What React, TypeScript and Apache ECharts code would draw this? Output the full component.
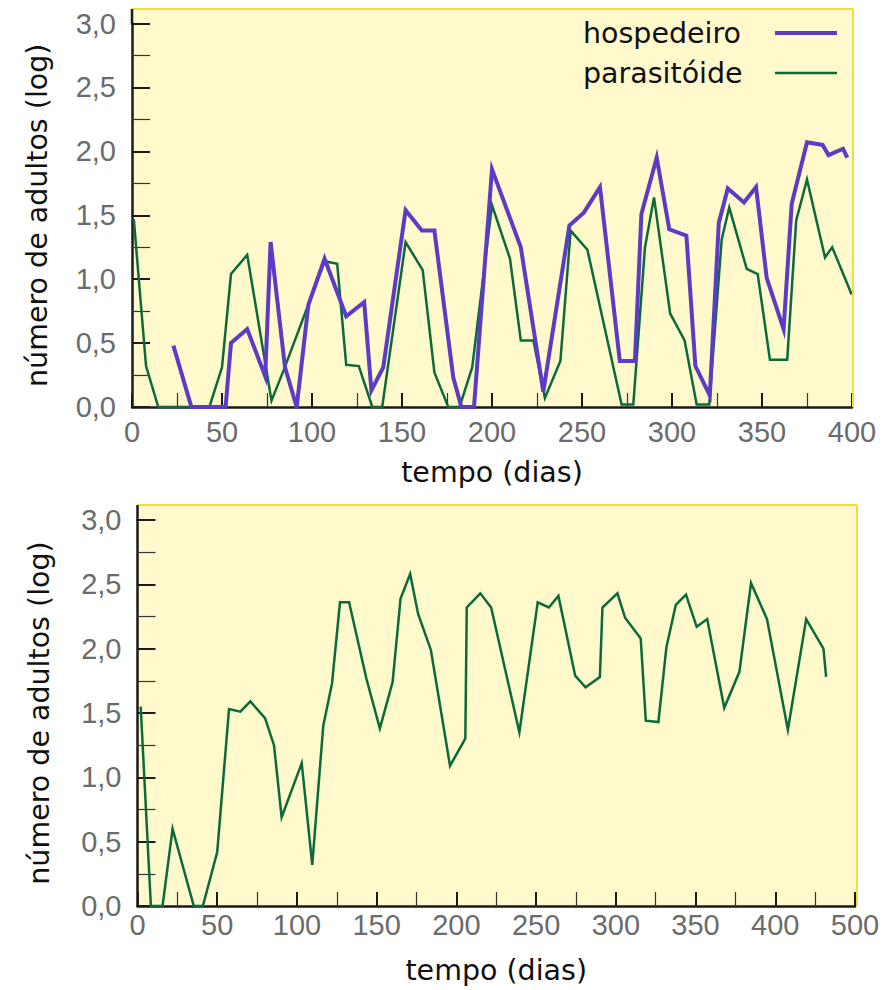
import React, { useEffect, useRef } from "react";
import * as echarts from "echarts";

// ---------- data ----------
const topXTickLabels = ["0", "50", "100", "150", "200", "250", "300", "350", "400"];
const bottomXTickLabels = ["0", "50", "100", "150", "200", "250", "300", "350", "400", "500"];
const yTickLabels = ["0,0", "0,5", "1,0", "1,5", "2,0", "2,5", "3,0"];

const seriesNames = ["hospedeiro", "parasitóide"];

const hostDays = [23, 33, 52, 55, 64, 74, 77, 85, 91.5, 98, 107, 119, 129, 133, 139.6, 152, 161, 168, 178.5, 183, 190, 200, 216, 228.5, 243, 251, 260, 271, 279.4, 283, 291.5, 298.5, 308, 313, 321, 326, 331, 340, 346.7, 352.6, 362, 366.5, 375, 383.7, 387, 395, 397.4];
const hostValues = [0.48, 0, 0, 0.5, 0.61, 0.24, 1.29, 0.31, 0, 0.8, 1.16, 0.71, 0.82, 0.13, 0.31, 1.54, 1.38, 1.38, 0.23, 0, 0, 1.86, 1.25, 0.12, 1.42, 1.52, 1.72, 0.36, 0.36, 1.51, 1.95, 1.39, 1.34, 0.32, 0.09, 1.44, 1.71, 1.6, 1.72, 1.01, 0.61, 1.59, 2.07, 2.05, 1.97, 2.02, 1.95];

const paraDays = [1, 7.8, 14.6, 43, 50, 55, 64, 77.5, 84.6, 107, 114, 119, 126, 133.5, 139, 152, 161.5, 168, 175.7, 182, 189, 200, 210, 216, 223, 229.4, 238, 243.7, 253, 272, 278.5, 285, 290, 299, 307, 313.7, 320.7, 327.6, 331.8, 341.5, 347.6, 354.4, 364, 369, 375, 385, 389, 399.8];
const paraValues = [1.47, 0.32, 0, 0, 0.31, 1.04, 1.19, 0.05, 0.3, 1.14, 1.12, 0.33, 0.32, 0, 0, 1.29, 1.07, 0.27, 0, 0, 0.31, 1.58, 1.16, 0.52, 0.52, 0.07, 0.36, 1.38, 1.23, 0.02, 0.02, 1.25, 1.64, 0.73, 0.52, 0.02, 0.02, 1.31, 1.56, 1.08, 1.04, 0.37, 0.37, 1.46, 1.78, 1.17, 1.25, 0.88];

const para2Days = [2, 8.4, 15.7, 22, 35.3, 41, 50, 57.4, 64.5, 70.8, 80, 85.6, 90.4, 103, 109.6, 116.5, 122, 127, 132.7, 143.5, 152, 160, 165, 171, 176, 184, 196, 205.6, 206.5, 215, 221.8, 239.5, 251, 258, 264, 274.5, 281, 290, 291.6, 301, 305.8, 315.6, 318.8, 326.7, 331.7, 337.6, 344, 350.7, 357.3, 368, 377.5, 384.8, 394.8, 407.9, 419.4, 430.2, 431.9];
const para2Values = [1.55, 0, 0, 0.6, 0, 0, 0.42, 1.53, 1.51, 1.59, 1.46, 1.25, 0.69, 1.11, 0.32, 1.4, 1.73, 2.36, 2.36, 1.77, 1.38, 1.74, 2.39, 2.58, 2.27, 1.99, 1.09, 1.3, 2.32, 2.43, 2.32, 1.35, 2.36, 2.32, 2.41, 1.79, 1.7, 1.78, 2.32, 2.43, 2.24, 2.08, 1.44, 1.43, 2.01, 2.34, 2.42, 2.17, 2.23, 1.54, 1.82, 2.51, 2.23, 1.37, 2.23, 2.0, 1.78];

// ---------- style / layout ----------
const PURPLE = "#5B3CC4";
const GREEN = "#0B6A3A";
const BG = "#FFF9CC";
const BORDER = "#F0DE40";
const AXIS = "#1a1a1a";
const TICK_GRAY = "#6b6b6b";
const TITLE_FONT = "'DejaVu Sans', sans-serif";
const TICK_FONT = "'Liberation Sans', Arial, sans-serif";

const G1 = { left: 132, top: 23.5, width: 720, height: 383.5, boxTop: 9, boxRight: 853 };
const G2 = { left: 137.5, top: 520, width: 717.5, height: 386, boxTop: 505, boxRight: 857 };

const pairs = (xs: number[], ys: number[]) => xs.map((x, i) => [x, ys[i]]);

function xAxisFor(gridIndex: number, max: number, labels: string[], labelMargin: number, nameGap: number) {
  return {
    gridIndex,
    type: "value",
    min: 0,
    max,
    interval: 50,
    axisLine: { show: true, onZero: false, lineStyle: { color: AXIS, width: 2.5 } },
    axisTick: { show: true, inside: true, length: 14, lineStyle: { color: AXIS, width: 2 } },
    minorTick: { show: true, splitNumber: 2, length: 14, lineStyle: { color: "#333", width: 1.2 } },
    splitLine: { show: false },
    axisLabel: {
      margin: labelMargin,
      color: TICK_GRAY,
      fontSize: 29,
      fontFamily: TICK_FONT,
      formatter: (v: number) => labels[Math.round(v / 50)] ?? "",
    },
    name: "tempo (dias)",
    nameLocation: "middle",
    nameGap,
    nameTextStyle: { color: "#111", fontSize: 28.5, fontFamily: TITLE_FONT },
  };
}

function yAxisFor(gridIndex: number, nameGap: number) {
  return {
    gridIndex,
    type: "value",
    min: 0,
    max: 3,
    interval: 0.5,
    axisLine: { show: true, lineStyle: { color: AXIS, width: 2.5 } },
    axisTick: { show: true, inside: true, length: 18, lineStyle: { color: AXIS, width: 2 } },
    minorTick: { show: true, splitNumber: 2, length: 18, lineStyle: { color: "#333", width: 1.2 } },
    splitLine: { show: false },
    axisLabel: {
      margin: 16,
      color: TICK_GRAY,
      fontSize: 29,
      fontFamily: TICK_FONT,
      formatter: (v: number) => yTickLabels[Math.round(v / 0.5)] ?? "",
    },
    name: "número de adultos (log)",
    nameLocation: "middle",
    nameRotate: 90,
    nameGap,
    nameTextStyle: { color: "#111", fontSize: 28.5, fontFamily: TITLE_FONT },
  };
}

function boxGraphics(g: typeof G1) {
  const bottom = g.top + g.height;
  return [
    { type: "rect", z: -5, silent: true, shape: { x: g.left, y: g.boxTop, width: g.boxRight - g.left, height: bottom - g.boxTop }, style: { fill: BG } },
    { type: "line", z: 5, silent: true, shape: { x1: g.left, y1: g.boxTop, x2: g.boxRight, y2: g.boxTop }, style: { stroke: BORDER, lineWidth: 2 } },
    { type: "line", z: 5, silent: true, shape: { x1: g.boxRight, y1: g.boxTop, x2: g.boxRight, y2: bottom }, style: { stroke: BORDER, lineWidth: 2 } },
    { type: "line", z: 6, silent: true, shape: { x1: g.left, y1: g.boxTop, x2: g.left, y2: g.top + 1 }, style: { stroke: AXIS, lineWidth: 2.5 } },
  ];
}

function legendGraphics() {
  const items = [
    { name: seriesNames[0], color: PURPLE, width: 4, y: 33 },
    { name: seriesNames[1], color: GREEN, width: 2.5, y: 73 },
  ];
  const out: any[] = [];
  items.forEach((it) => {
    out.push({
      type: "text",
      z: 10,
      silent: true,
      x: 583,
      y: it.y,
      style: { text: it.name, fill: "#111", fontSize: 28.5, fontFamily: TITLE_FONT, verticalAlign: "middle", align: "left" },
    });
    out.push({
      type: "line",
      z: 10,
      silent: true,
      shape: { x1: 775, y1: it.y, x2: 837, y2: it.y },
      style: { stroke: it.color, lineWidth: it.width },
    });
  });
  return out;
}

const option: any = {
  animation: false,
  grid: [
    { left: G1.left, top: G1.top, width: G1.width, height: G1.height },
    { left: G2.left, top: G2.top, width: G2.width, height: G2.height },
  ],
  xAxis: [xAxisFor(0, 400, topXTickLabels, 10, 51), xAxisFor(1, 450, bottomXTickLabels, 4, 50)],
  yAxis: [yAxisFor(0, 80), yAxisFor(1, 84)],
  graphic: [...boxGraphics(G1), ...boxGraphics(G2), ...legendGraphics()],
  series: [
    {
      name: seriesNames[0],
      type: "line",
      xAxisIndex: 0,
      yAxisIndex: 0,
      data: pairs(hostDays, hostValues),
      symbol: "none",
      lineStyle: { color: PURPLE, width: 4, join: "miter", miterLimit: 6 },
      itemStyle: { color: PURPLE },
      z: 4,
    },
    {
      name: seriesNames[1],
      type: "line",
      xAxisIndex: 0,
      yAxisIndex: 0,
      data: pairs(paraDays, paraValues),
      symbol: "none",
      lineStyle: { color: GREEN, width: 2.5, join: "miter", miterLimit: 6 },
      itemStyle: { color: GREEN },
      z: 3,
    },
    {
      name: seriesNames[1] + " ",
      type: "line",
      xAxisIndex: 1,
      yAxisIndex: 1,
      data: pairs(para2Days, para2Values),
      symbol: "none",
      lineStyle: { color: GREEN, width: 2.5, join: "miter", miterLimit: 6 },
      itemStyle: { color: GREEN },
      z: 3,
    },
  ],
};

export default function App() {
  const ref = useRef<HTMLDivElement>(null);
  useEffect(() => {
    document.body.style.margin = "0";
    const chart = echarts.init(ref.current!, null, { renderer: "svg" });
    chart.setOption(option);
    return () => chart.dispose();
  }, []);
  return <div ref={ref} style={{ width: 884, height: 990, background: "#fff" }} />;
}
